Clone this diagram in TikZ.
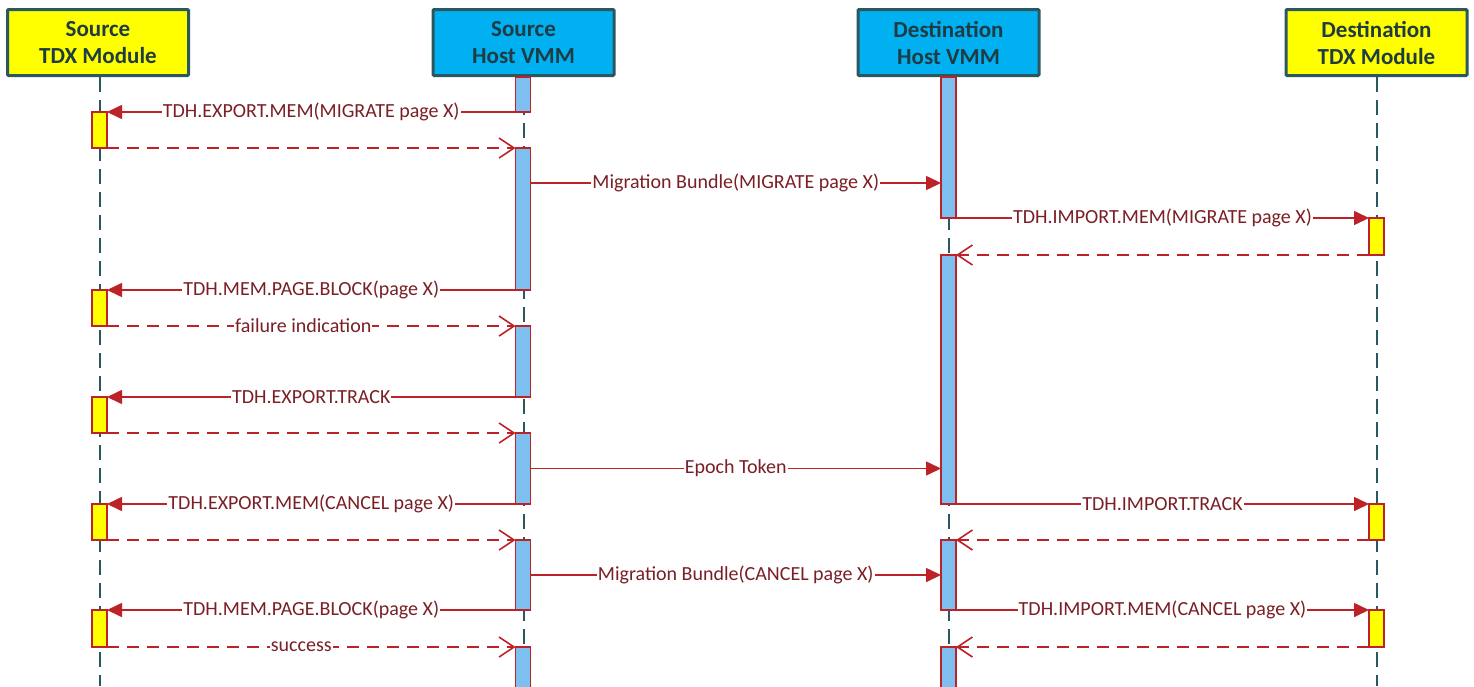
\documentclass[tikz,border=0pt]{standalone}
\usepackage{fontspec}
\usepackage{xcolor}
\usepackage{tikz}
\usetikzlibrary{arrows.meta}
\newfontfamily\carlito{Carlito}

\definecolor{tdxyellow}{HTML}{FFFF00}
\definecolor{vmmcyan}{HTML}{00B0F0}
\definecolor{barblue}{HTML}{7DBFEF}
\definecolor{headline}{HTML}{2A5860}
\definecolor{headtext}{HTML}{1F3C44}
\definecolor{msgred}{HTML}{BD2228}
\definecolor{msgtext}{HTML}{7A1F25}

\tikzset{
  head/.style={draw=headline, line width=3pt, rounded corners=1pt, minimum width=181pt,
    minimum height=66pt, align=center, text=headtext,
    font=\carlito\bfseries\fontsize{23}{27}\selectfont},
  tdxhead/.style={head, fill=tdxyellow},
  vmmhead/.style={head, fill=vmmcyan},
  lifeline/.style={draw=headline, line width=2pt, dash pattern=on 15pt off 8pt},
  actbar/.style={draw=msgred, line width=1.6pt, minimum width=15pt, inner sep=0pt,
    outer sep=0pt, anchor=north},
  tdxbar/.style={actbar, fill=tdxyellow},
  vmmbar/.style={actbar, fill=barblue},
  call/.style={draw=msgred, line width=1.6pt, -{Triangle[length=15pt, width=14pt]}},
  reply/.style={draw=msgred, line width=1.6pt, dash pattern=on 12pt off 8pt,
    -{Straight Barb[length=15pt, width=20pt, line width=1.6pt]}},
  msglabel/.style={fill=white, inner sep=1pt, text=msgtext,
    font=\carlito\fontsize{20}{23}\selectfont}
}

\begin{document}
\begin{tikzpicture}[x=1pt, y=-1pt]
  \useasboundingbox (0,0) rectangle (1474,686);

  % participants
  \node[tdxhead] (srctdx) at (98,42.5) {Source\\TDX Module};
  \node[vmmhead] (srcvmm) at (523.5,42.5) {Source\\Host VMM};
  \node[vmmhead] (dstvmm) at (948.5,42.5) {Destination\\Host VMM};
  \node[tdxhead] (dsttdx) at (1376.5,42.5) {Destination\\TDX Module};

  % lifelines
  \draw[lifeline] (srctdx.south -| 99.5,0) -- (99.5,686);
  \draw[lifeline] (srcvmm.south) -- (523.5,686);
  \draw[lifeline] (dstvmm.south) -- (948.5,686);
  \draw[lifeline] (dsttdx.south) -- (1376.5,686);

  % activation bars, source host VMM
  \node[vmmbar, minimum height=35pt] (a1) at (523,77) {};
  \node[vmmbar, minimum height=142pt] (a2) at (523,148) {};
  \node[vmmbar, minimum height=71pt] (a3) at (523,326) {};
  \node[vmmbar, minimum height=71pt] (a4) at (523,433) {};
  \node[vmmbar, minimum height=70pt] (a5) at (523,540) {};
  \node[vmmbar, minimum height=41pt] (a6) at (523,647) {};
  % activation bars, destination host VMM
  \node[vmmbar, minimum height=141pt] (b1) at (948.5,77) {};
  \node[vmmbar, minimum height=249pt] (b2) at (948.5,255) {};
  \node[vmmbar, minimum height=70pt] (b3) at (948.5,540) {};
  \node[vmmbar, minimum height=41pt] (b4) at (948.5,647) {};
  % activation bars, source TDX module
  \node[tdxbar, minimum height=36pt] (s1) at (99.5,112) {};
  \node[tdxbar, minimum height=36pt] (s2) at (99.5,290) {};
  \node[tdxbar, minimum height=36pt] (s3) at (99.5,397) {};
  \node[tdxbar, minimum height=36pt] (s4) at (99.5,504) {};
  \node[tdxbar, minimum height=37pt] (s5) at (99.5,610) {};
  % activation bars, destination TDX module
  \node[tdxbar, minimum height=37pt] (d1) at (1376.5,218) {};
  \node[tdxbar, minimum height=36pt] (d2) at (1376.5,504) {};
  \node[tdxbar, minimum height=37pt] (d3) at (1376.5,610) {};

  \coordinate (bundle1) at (a2.east |- 0,183);

  % messages
  \draw[call] (a1.south west) -- (s1.north east) node[msglabel, midway] {TDH.EXPORT.MEM(MIGRATE page X)};
  \draw[reply] (s1.south east) -- (a2.north west);
  \draw[call] (bundle1) -- (bundle1 -| b1.west) node[msglabel, midway] {Migration Bundle(MIGRATE page X)};
  \draw[call] (b1.south east) -- (d1.north west) node[msglabel, midway] {TDH.IMPORT.MEM(MIGRATE page X)};
  \draw[reply] (d1.south west) -- (b2.north east);
  \draw[call] (a2.south west) -- (s2.north east) node[msglabel, midway] {TDH.MEM.PAGE.BLOCK(page X)};
  \draw[reply] (s2.south east) -- (a3.north west) node[msglabel, midway, xshift=-8pt] {failure indication};
  \draw[call] (a3.south west) -- (s3.north east) node[msglabel, midway] {TDH.EXPORT.TRACK};
  \draw[reply] (s3.south east) -- (a4.north west);
  \draw[call] (a4.east) -- (a4.east -| b2.west) node[msglabel, midway] {Epoch Token};
  \draw[call] (a4.south west) -- (s4.north east) node[msglabel, midway] {TDH.EXPORT.MEM(CANCEL page X)};
  \draw[call] (b2.south east) -- (d2.north west) node[msglabel, midway] {TDH.IMPORT.TRACK};
  \draw[reply] (s4.south east) -- (a5.north west);
  \draw[reply] (d2.south west) -- (b3.north east);
  \draw[call] (a5.east) -- (b3.west) node[msglabel, midway] {Migration Bundle(CANCEL page X)};
  \draw[call] (a5.south west) -- (s5.north east) node[msglabel, midway] {TDH.MEM.PAGE.BLOCK(page X)};
  \draw[call] (b3.south east) -- (d3.north west) node[msglabel, midway] {TDH.IMPORT.MEM(CANCEL page X)};
  \draw[reply] (s5.south east) -- (a6.north west) node[msglabel, midway, xshift=-10pt] {success};
  \draw[reply] (d3.south west) -- (b4.north east);
\end{tikzpicture}
\end{document}
